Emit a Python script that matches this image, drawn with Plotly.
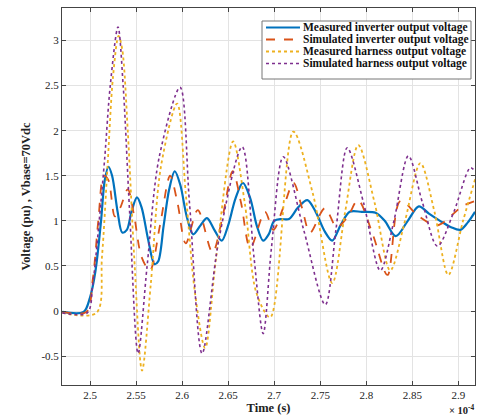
import plotly.graph_objects as go

# ---- data (time in units of the axis, voltage in pu) ----
t_meas_inv = [2.470, 2.493, 2.500, 2.506, 2.512, 2.516, 2.520, 2.524, 2.530, 2.535, 2.540, 2.545,
              2.551, 2.556, 2.563, 2.570, 2.574, 2.580, 2.586, 2.592, 2.598, 2.605, 2.612, 2.620,
              2.627, 2.635, 2.643, 2.650, 2.658, 2.666, 2.674, 2.681, 2.688, 2.694, 2.700, 2.708,
              2.716, 2.726, 2.736, 2.745, 2.755, 2.763, 2.772, 2.782, 2.795, 2.810, 2.820, 2.832,
              2.845, 2.857, 2.868, 2.880, 2.892, 2.902, 2.910, 2.918]
v_meas_inv = [-0.01, -0.01, 0.15, 0.45, 1.00, 1.45, 1.60, 1.50, 1.10, 0.87, 0.90, 1.10,
              1.26, 1.15, 0.80, 0.52, 0.55, 0.95, 1.35, 1.55, 1.40, 1.05, 0.85, 0.95,
              1.03, 0.90, 0.78, 0.95, 1.25, 1.42, 1.25, 0.95, 0.78, 0.85, 1.00, 1.02,
              1.02, 1.15, 1.23, 1.10, 0.88, 0.78, 0.95, 1.10, 1.10, 1.09, 1.00, 0.83,
              1.00, 1.16, 1.08, 1.00, 0.93, 0.90, 0.98, 1.10]

t_sim_inv = [2.470, 2.496, 2.503, 2.509, 2.515, 2.520, 2.527, 2.533, 2.541, 2.548, 2.556, 2.565,
             2.576, 2.587, 2.595, 2.604, 2.617, 2.633, 2.644, 2.655, 2.664, 2.674, 2.690, 2.699,
             2.710, 2.721, 2.730, 2.739, 2.755, 2.768, 2.780, 2.791, 2.807, 2.823, 2.837, 2.857,
             2.877, 2.904, 2.918]
v_sim_inv = [-0.01, -0.01, 0.35, 1.00, 1.50, 1.45, 1.05, 1.15, 1.35, 1.05, 0.60, 0.45,
             0.95, 1.50, 1.20, 0.75, 1.12, 0.65, 1.05, 1.55, 1.20, 0.70, 1.10, 0.90,
             1.15, 1.42, 1.15, 0.87, 1.14, 0.93, 1.05, 1.23, 0.85, 0.40, 1.22, 1.05,
             0.95, 1.16, 1.22]

t_meas_har = [2.470, 2.507, 2.513, 2.519, 2.525, 2.531, 2.535, 2.541, 2.548, 2.5565, 2.566,
              2.577, 2.5946, 2.604, 2.614, 2.625, 2.637, 2.6554, 2.668, 2.6807, 2.6957,
              2.7207, 2.742, 2.763, 2.777, 2.7913, 2.809, 2.826, 2.842, 2.8587, 2.874, 2.8891,
              2.905, 2.919]
v_meas_har = [-0.02, -0.02, 0.60, 1.60, 2.60, 3.05, 2.90, 2.00, 0.60, -0.66, 0.30,
              1.60, 2.30, 1.30, 0.20, -0.41, 0.60, 1.88, 1.20, 0.20, -0.07,
              1.99, 1.30, 0.31, 1.10, 1.84, 1.20, 0.45, 1.00, 1.64, 1.10, 0.40,
              1.00, 1.49]

t_sim_har = [2.470, 2.497, 2.503, 2.510, 2.516, 2.522, 2.5304, 2.536, 2.543, 2.5522, 2.562,
             2.575, 2.5978, 2.608, 2.6217, 2.640, 2.6652, 2.678, 2.688, 2.697, 2.7098,
             2.732, 2.7554, 2.767, 2.7793, 2.797, 2.8152, 2.830, 2.8457, 2.861, 2.8772,
             2.895, 2.913, 2.918]
v_sim_har = [-0.02, -0.02, 0.30, 1.00, 1.70, 2.50, 3.15, 2.50, 1.10, -0.47, 0.50,
             1.70, 2.48, 1.20, -0.47, 0.80, 1.82, 0.60, -0.25, 0.70, 1.71,
             0.90, 0.07, 0.90, 1.81, 1.20, 0.45, 1.00, 1.72, 1.20, 0.72,
             1.10, 1.59, 1.55]

names = ["Measured inverter output voltage", "Simulated inverter output voltage",
         "Measured harness output voltage", "Simulated harness output voltage"]

x_ticks = [2.5, 2.55, 2.6, 2.65, 2.7, 2.75, 2.8, 2.85, 2.9]
x_tick_text = ["2.5", "2.55", "2.6", "2.65", "2.7", "2.75", "2.8", "2.85", "2.9"]
y_ticks = [-0.5, 0, 0.5, 1, 1.5, 2, 2.5, 3]
y_tick_text = ["-0.5", "0", "0.5", "1", "1.5", "2", "2.5", "3"]

series = [(t_meas_inv, v_meas_inv), (t_sim_inv, v_sim_inv),
          (t_meas_har, v_meas_har), (t_sim_har, v_sim_har)]
colors = ["#0072BD", "#D95319", "#EDB120", "#7E2F8E"]
dashes = ["solid", "dash", "dot", "dot"]
widths = [2.2, 1.8, 1.8, 1.6]

FONT = "Liberation Serif"

# plot area in pixels (for converting the hand-drawn legend position)
L, R, T, B = 62, 475, 8, 385
W_IMG, H_IMG = 478, 419


def px(x):
    return (x - L) / (R - L)


def py(y):
    return (B - y) / (B - T)


fig = go.Figure()
for (t, v), n, c, d, w in zip(series, names, colors, dashes, widths):
    fig.add_trace(go.Scatter(x=t, y=v, name=n, mode="lines", showlegend=False,
                             line=dict(color=c, dash=d, width=w, shape="spline", smoothing=0.9)))

axis_common = dict(showline=True, linecolor="#444", linewidth=1, mirror="ticks",
                   ticks="inside", ticklen=4, tickcolor="#444",
                   showgrid=True, gridcolor="#e3e3e3", gridwidth=1, zeroline=False,
                   tickfont=dict(family=FONT, size=11, color="#222"))

fig.update_layout(
    width=W_IMG, height=H_IMG,
    margin=dict(l=L, r=W_IMG - R, t=T, b=H_IMG - B),
    paper_bgcolor="white", plot_bgcolor="white",
    font=dict(family=FONT, color="#222"),
    xaxis=dict(range=[2.4696, 2.918], tickvals=x_ticks, ticktext=x_tick_text,
               title=dict(text="<b>Time (s)</b>", font=dict(family=FONT, size=12.5), standoff=3),
               **axis_common),
    yaxis=dict(range=[-0.82, 3.36], tickvals=y_ticks, ticktext=y_tick_text,
               title=dict(text="<b>Voltage (pu) , Vbase=70Vdc</b>", font=dict(family=FONT, size=12.5),
                          standoff=8),
               **axis_common),
    showlegend=False,
)

# legend box (drawn as shapes + text to match the compact MATLAB legend)
shapes = [dict(type="rect", xref="paper", yref="paper",
               x0=px(262), x1=px(471), y0=py(79), y1=py(21),
               line=dict(color="#777", width=1), fillcolor="white", layer="above")]
annotations = []
entry_y = [27.5, 39.5, 51.5, 63.5]
for n, c, d, w, yy in zip(names, colors, dashes, widths, entry_y):
    shapes.append(dict(type="line", xref="paper", yref="paper",
                       x0=px(266), x1=px(300), y0=py(yy), y1=py(yy),
                       line=dict(color=c, dash=d, width=w), layer="above"))
    annotations.append(dict(text="<b>" + n + "</b>", xref="paper", yref="paper",
                            x=px(301), y=py(yy), xanchor="left", yanchor="middle",
                            showarrow=False, font=dict(family=FONT, size=11.5, color="#111")))

annotations.append(dict(text="<b>× 10<sup>-4</sup></b>", xref="paper", yref="paper",
                        x=px(W_IMG - 1), y=py(401), xanchor="right", yanchor="top", showarrow=False,
                        font=dict(family=FONT, size=10.5, color="#222")))

fig.update_layout(shapes=shapes, annotations=annotations)

fig.write_html("out.html")
